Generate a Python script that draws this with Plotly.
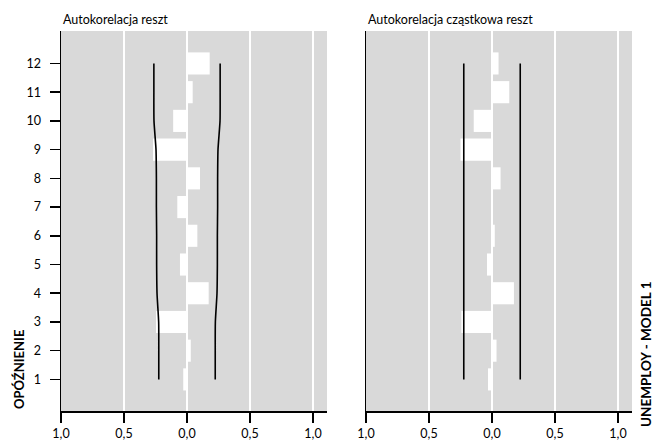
import plotly.graph_objects as go

lags = [1, 2, 3, 4, 5, 6, 7, 8, 9, 10, 11, 12]
acf_vals = [-0.03, 0.03, -0.246, 0.172, -0.056, 0.082, -0.077, 0.103, -0.27, -0.11, 0.045, 0.18]
acf_band = [0.224, 0.224, 0.225, 0.238, 0.241, 0.241, 0.243, 0.243, 0.246, 0.262, 0.263, 0.263]
pacf_vals = [-0.032, 0.036, -0.243, 0.174, -0.04, 0.022, -0.004, 0.068, -0.25, -0.145, 0.137, 0.052]
pacf_band = [0.224] * 12
x_tickvals = [-1, -0.5, 0, 0.5, 1]
x_ticktext = ["1,0", "0,5", "0,0", "0,5", "1,0"]
titles = ["Autokorelacja reszt", "Autokorelacja cząstkowa reszt"]
y_title = "OPÓŹNIENIE"
side_title = "UNEMPLOY - MODEL 1"

W, H = 654, 442
FONT = "Lato"
BG = "#d9d9d9"

fig = go.Figure()

panels = [(acf_vals, acf_band, "x", "y"), (pacf_vals, pacf_band, "x2", "y2")]
for vals, band, xa, ya in panels:
    fig.add_trace(go.Bar(x=vals, y=lags, orientation="h", width=0.77,
                         marker=dict(color="white", line=dict(width=0)),
                         xaxis=xa, yaxis=ya, hoverinfo="skip"))
    fig.add_trace(go.Scatter(x=[-b for b in band], y=lags, mode="lines",
                             line=dict(color="black", width=1.6, shape="spline", smoothing=0.6),
                             xaxis=xa, yaxis=ya, hoverinfo="skip"))
    fig.add_trace(go.Scatter(x=band, y=lags, mode="lines",
                             line=dict(color="black", width=1.6, shape="spline", smoothing=0.6),
                             xaxis=xa, yaxis=ya, hoverinfo="skip"))

xd1 = [61 / W, 327 / W]
xd2 = [366 / W, 632 / W]
yd = [(H - 411) / H, (H - 31) / H]

xcommon = dict(range=[-1.0, 1.111], tickvals=x_tickvals, ticktext=x_ticktext,
               showgrid=True, gridcolor="white", gridwidth=1.5, zeroline=False,
               showline=True, linecolor="black", linewidth=1.5,
               ticks="outside", ticklen=10, tickwidth=1.5, tickcolor="black",
               automargin=False,
               tickfont=dict(family=FONT, size=12.5, color="black"), fixedrange=True)
ycommon = dict(range=[-0.1, 13.13], showgrid=False, zeroline=False, automargin=False,
               showline=True, linecolor="black", linewidth=1.5, fixedrange=True)

fig.update_layout(
    width=W, height=H,
    margin=dict(l=0, r=0, t=0, b=0, pad=0),
    paper_bgcolor="white", plot_bgcolor=BG,
    showlegend=False, barmode="overlay",
    font=dict(family=FONT, size=12, color="black"),
    xaxis=dict(domain=xd1, anchor="y", **xcommon),
    xaxis2=dict(domain=xd2, anchor="y2", **xcommon),
    yaxis=dict(domain=yd, anchor="x", tickvals=lags, ticktext=[str(l) for l in lags],
               ticks="outside", ticklen=10, tickwidth=1.5, tickcolor="black",
               ticklabelstandoff=6,
               tickfont=dict(family=FONT, size=12.5, color="black"), **ycommon),
    yaxis2=dict(domain=yd, anchor="x2", showticklabels=False, ticks="", **ycommon),
    annotations=[
        dict(text=titles[0], x=61 / W, y=1 - 20 / H, xref="paper", yref="paper",
             xanchor="left", yanchor="middle", showarrow=False,
             font=dict(family=FONT, size=12.5, color="black")),
        dict(text=titles[1], x=366 / W, y=1 - 20 / H, xref="paper", yref="paper",
             xanchor="left", yanchor="middle", showarrow=False,
             font=dict(family=FONT, size=12.5, color="black")),
        dict(text="<b>" + y_title + "</b>", x=18.5 / W, y=(H - 411) / H, xref="paper", yref="paper",
             xanchor="center", yanchor="bottom", textangle=-90, showarrow=False,
             font=dict(family=FONT, size=13, color="black")),
        dict(text="<b>" + side_title + "</b>", x=646 / W, y=1 - 279 / H, xref="paper", yref="paper",
             xanchor="center", yanchor="top", textangle=-90, showarrow=False,
             font=dict(family=FONT, size=13.5, color="black")),
    ],
)

fig.write_html("out.html", config={"displayModeBar": False, "staticPlot": True},
               post_script="document.body.style.margin='0';document.body.style.overflow='hidden';")
